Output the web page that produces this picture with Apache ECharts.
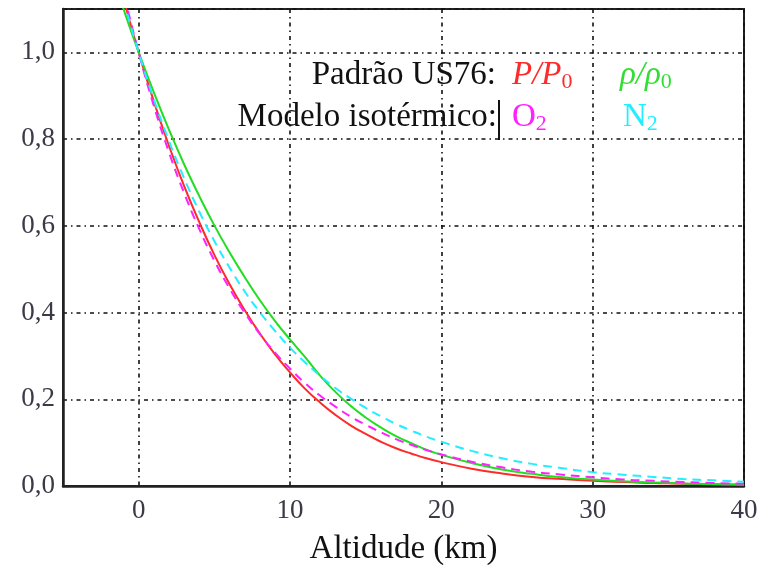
<!DOCTYPE html>
<html>
<head>
<meta charset="utf-8">
<script src="https://cdn.jsdelivr.net/npm/echarts@6/dist/echarts.min.js"></script>
<style>
html,body{margin:0;padding:0;background:#fff;}
#chart{width:761px;height:565px;}
</style>
</head>
<body>
<div id="chart"></div>
<script>
// Altitude (km)
const altitude = [-2,-1,0,1,2,3,4,5,6,7,8,9,10,11,12,13,14,15,16,17,18,19,20,22,24,26,28,30,32,34,36,38,40];
// Padrão US76: P/P0
const pressureUS76 = [1.261,1.124,1.000,0.887,0.785,0.692,0.609,0.533,0.466,0.406,0.352,0.304,0.262,0.224,0.192,0.164,0.140,0.120,0.102,0.087,0.075,0.064,0.055,0.040,0.029,0.021,0.016,0.012,0.009,0.007,0.005,0.004,0.003];
// Padrão US76: rho/rho0
const densityUS76 = [1.207,1.100,1.000,0.908,0.822,0.742,0.669,0.601,0.539,0.482,0.429,0.381,0.338,0.297,0.254,0.217,0.185,0.158,0.135,0.115,0.099,0.084,0.072,0.053,0.038,0.028,0.020,0.015,0.011,0.008,0.006,0.004,0.003];
// Modelo isotérmico: O2
const isoO2 = [1.299,1.140,1.000,0.877,0.770,0.676,0.593,0.520,0.456,0.400,0.351,0.308,0.271,0.237,0.208,0.183,0.160,0.141,0.124,0.108,0.095,0.083,0.073,0.056,0.043,0.033,0.026,0.020,0.015,0.012,0.009,0.007,0.005];
// Modelo isotérmico: N2
const isoN2 = [1.257,1.121,1.000,0.892,0.796,0.710,0.633,0.565,0.504,0.449,0.401,0.358,0.319,0.285,0.254,0.226,0.202,0.180,0.161,0.143,0.128,0.114,0.102,0.081,0.064,0.051,0.041,0.032,0.026,0.021,0.016,0.013,0.010];

const xTickValues = [0,10,20,30,40];
const xTickLabels = ['0','10','20','30','40'];
const yTickValues = [0,0.2,0.4,0.6,0.8,1.0];
const yTickLabels = ['0,0','0,2','0,4','0,6','0,8','1,0'];

const SERIF = '"Liberation Serif", "DejaVu Serif", serif';
const gridDash = [4,4,1.5,4];

function pairs(ys){ return altitude.map((x,i)=>[x, ys[i]]); }

const chart = echarts.init(document.getElementById('chart'), null, {renderer:'canvas'});
chart.setOption({
  animation:false,
  backgroundColor:'#ffffff',
  grid:{left:63,right:17,top:9,bottom:79,outerBoundsMode:'none',containLabel:false,
    show:true,borderColor:'#222',borderWidth:2,backgroundColor:'transparent'},
  xAxis:{
    type:'value',min:-5,max:40,
    name:'Altidude (km)',nameLocation:'middle',nameGap:47,
    nameTextStyle:{fontFamily:SERIF,fontSize:33,color:'#111'},
    axisLine:{show:true,onZero:false,lineStyle:{color:'#222',width:2.5}},
    axisTick:{show:false,customValues:xTickValues},
    axisLabel:{customValues:xTickValues,fontFamily:SERIF,fontSize:27,color:'#3a3a48',margin:11,
      formatter:v=>{const i=xTickValues.indexOf(v);return i>=0?xTickLabels[i]:'';}},
    splitLine:{show:true,lineStyle:{color:'#111',width:1.6,type:gridDash}}
  },
  yAxis:{
    type:'value',min:0,max:1.1,interval:0.2,
    axisLine:{show:true,onZero:false,lineStyle:{color:'#222',width:2.5}},
    axisTick:{show:false},
    axisLabel:{fontFamily:SERIF,fontSize:27,color:'#3a3a48',margin:8,showMaxLabel:false,
      formatter:v=>{const i=yTickValues.findIndex(t=>Math.abs(t-v)<1e-6);return i>=0?yTickLabels[i]:'';}},
    splitLine:{show:true,lineStyle:{color:'#111',width:1.6,type:gridDash}}
  },
  series:[
    {name:'P/P0',type:'line',data:pairs(pressureUS76),smooth:true,showSymbol:false,clip:true,
      lineStyle:{color:'#ff2a2a',width:2}},
    {name:'rho/rho0',type:'line',data:pairs(densityUS76),smooth:true,showSymbol:false,clip:true,
      lineStyle:{color:'#22dd22',width:2}},
    {name:'O2',type:'line',data:pairs(isoO2),smooth:true,showSymbol:false,clip:true,
      lineStyle:{color:'#ff22ff',width:2,type:[9,6]}},
    {name:'N2',type:'line',data:pairs(isoN2),smooth:true,showSymbol:false,clip:true,
      lineStyle:{color:'#22eeff',width:2,type:[9,6]}}
  ],
  graphic:[
    {type:'text',x:496,y:75,style:{text:'Padrão US76:',font:'33px '+SERIF,fill:'#111',align:'right',verticalAlign:'middle'}},
    {type:'text',x:497,y:117,style:{text:'Modelo isotérmico:',font:'33px '+SERIF,fill:'#111',align:'right',verticalAlign:'middle'}},
    {type:'line',shape:{x1:499,y1:100,x2:499,y2:140},style:{stroke:'#111',lineWidth:2}},
    {type:'text',x:512,y:75,style:{text:'{m|P/P}{s|0}',verticalAlign:'middle',
      rich:{m:{fontFamily:SERIF,fontStyle:'italic',fontSize:33,lineHeight:36,fill:'#ff2a2a'},
            s:{fontFamily:SERIF,fontSize:22,lineHeight:23,verticalAlign:'bottom',fill:'#ff2a2a'}}}},
    {type:'text',x:620,y:75,style:{text:'{m|ρ/ρ}{s|0}',verticalAlign:'middle',
      rich:{m:{fontFamily:SERIF,fontStyle:'italic',fontSize:33,lineHeight:36,fill:'#33dd33'},
            s:{fontFamily:SERIF,fontSize:22,lineHeight:23,verticalAlign:'bottom',fill:'#33dd33'}}}},
    {type:'text',x:512,y:117,style:{text:'{m|O}{s|2}',verticalAlign:'middle',
      rich:{m:{fontFamily:SERIF,fontSize:33,lineHeight:36,fill:'#ff22ff'},
            s:{fontFamily:SERIF,fontSize:22,lineHeight:23,verticalAlign:'bottom',fill:'#ff22ff'}}}},
    {type:'text',x:623,y:117,style:{text:'{m|N}{s|2}',verticalAlign:'middle',
      rich:{m:{fontFamily:SERIF,fontSize:33,lineHeight:36,fill:'#22eeff'},
            s:{fontFamily:SERIF,fontSize:22,lineHeight:23,verticalAlign:'bottom',fill:'#22eeff'}}}}
  ]
});
</script>
</body>
</html>
